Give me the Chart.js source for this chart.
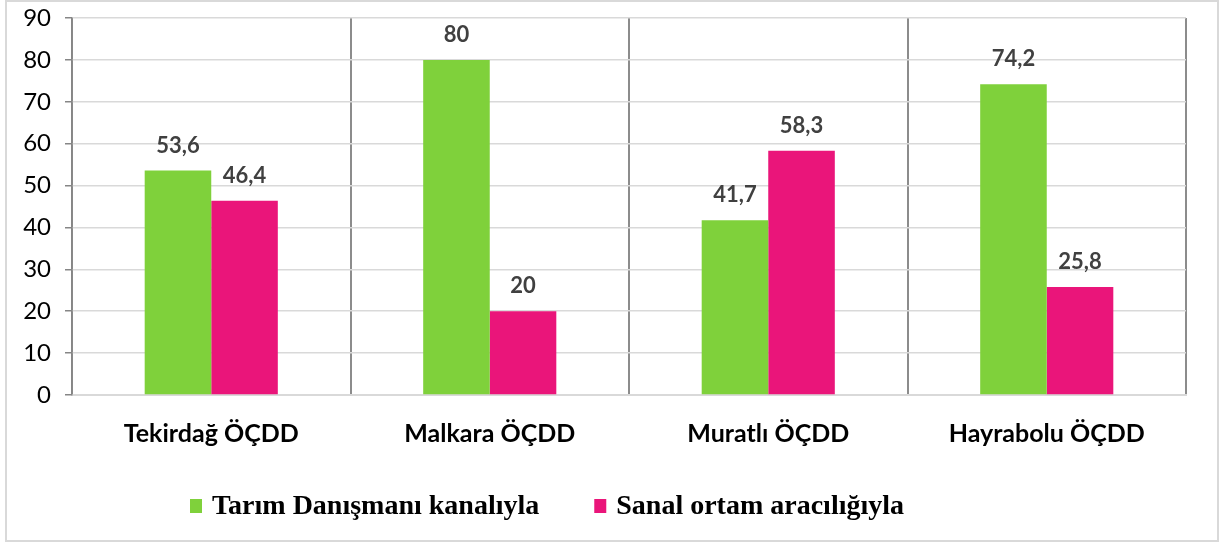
<!DOCTYPE html>
<html>
<head>
<meta charset="utf-8">
<script src="https://cdn.jsdelivr.net/npm/chart.js@4/dist/chart.umd.min.js"></script>
<style>
  html, body { margin: 0; padding: 0; background: #ffffff; }
  #wrap { position: relative; width: 1227px; height: 542px; }
</style>
</head>
<body>
<div id="wrap"><canvas id="c" width="1227" height="542"></canvas></div>
<script>
const categories = ['Tekirdağ ÖÇDD', 'Malkara ÖÇDD', 'Muratlı ÖÇDD', 'Hayrabolu ÖÇDD'];
const seriesNames = ['Tarım Danışmanı kanalıyla', 'Sanal ortam aracılığıyla'];
const danismanValues = [53.6, 80, 41.7, 74.2];
const sanalValues = [46.4, 20, 58.3, 25.8];
const yTicks = [0, 10, 20, 30, 40, 50, 60, 70, 80, 90];
const seriesColors = ['#7FD13B', '#EA157A'];

const fmt = v => String(v).replace('.', ',');

const borderPlugin = {
  id: 'outerBorder',
  beforeDraw(chart) {
    const ctx = chart.ctx;
    ctx.save();
    ctx.fillStyle = '#ffffff';
    ctx.fillRect(0, 0, chart.width, chart.height);
    ctx.strokeStyle = '#d9d9d9';
    ctx.lineWidth = 2;
    ctx.strokeRect(6, 1, 1212, 540);
    ctx.restore();
  }
};

const dataLabelPlugin = {
  id: 'dataLabels',
  afterDatasetsDraw(chart) {
    const ctx = chart.ctx;
    ctx.save();
    ctx.font = 'bold 22px Lato';
    ctx.fillStyle = '#404040';
    ctx.textAlign = 'center';
    ctx.textBaseline = 'middle';
    chart.data.datasets.forEach((ds, i) => {
      const meta = chart.getDatasetMeta(i);
      meta.data.forEach((el, j) => {
        ctx.fillText(fmt(ds.data[j]), el.x, el.y - 25);
      });
    });
    ctx.restore();
  }
};

const legendPlugin = {
  id: 'customLegend',
  afterDraw(chart) {
    const ctx = chart.ctx;
    ctx.save();
    ctx.font = 'bold 28px "Liberation Serif"';
    ctx.textBaseline = 'middle';
    ctx.textAlign = 'left';
    let x = 190;
    const y = 507;
    chart.data.datasets.forEach(ds => {
      ctx.fillStyle = ds.backgroundColor;
      ctx.fillRect(x, y - 8, 12, 14);
      x += 12 + 10;
      ctx.fillStyle = '#000000';
      ctx.fillText(ds.label, x, y);
      x += ctx.measureText(ds.label).width + 55;
    });
    ctx.restore();
  }
};

new Chart(document.getElementById('c'), {
  type: 'bar',
  data: {
    labels: categories,
    datasets: [
      { label: seriesNames[0], data: danismanValues, backgroundColor: seriesColors[0], barPercentage: 1, categoryPercentage: 0.478 },
      { label: seriesNames[1], data: sanalValues, backgroundColor: seriesColors[1], barPercentage: 1, categoryPercentage: 0.478 }
    ]
  },
  options: {
    responsive: false,
    animation: false,
    devicePixelRatio: 1,
    layout: { padding: { left: 0, right: 41, top: 18, bottom: 67 } },
    plugins: {
      legend: { display: false },
      tooltip: { enabled: false }
    },
    scales: {
      x: {
        offset: true,
        grid: { display: true, offset: true, color: '#8c8c8c', lineWidth: 2, drawTicks: false },
        border: { display: true, color: '#d9d9d9', width: 2 },
        ticks: { color: '#000000', font: { family: 'Lato', size: 25, weight: 'bold' }, padding: 24, maxRotation: 0 },
        afterFit(scale) { scale.height = 80; scale.paddingLeft = 0; scale.paddingRight = 0; }
      },
      y: {
        min: 0,
        max: 90,
        afterBuildTicks(scale) { scale.ticks = yTicks.map(v => ({ value: v })); },
        grid: { color: '#d9d9d9', lineWidth: 1.5, tickColor: '#868686', tickLength: 7, drawTicks: true },
        border: { display: true, color: '#868686', width: 1.5 },
        ticks: { color: '#000000', font: { family: 'Lato', size: 24 }, padding: 14 },
        afterFit(scale) { scale.width = 72; scale.paddingTop = 0; scale.paddingBottom = 0; }
      }
    }
  },
  plugins: [borderPlugin, dataLabelPlugin, legendPlugin]
});
</script>
</body>
</html>
